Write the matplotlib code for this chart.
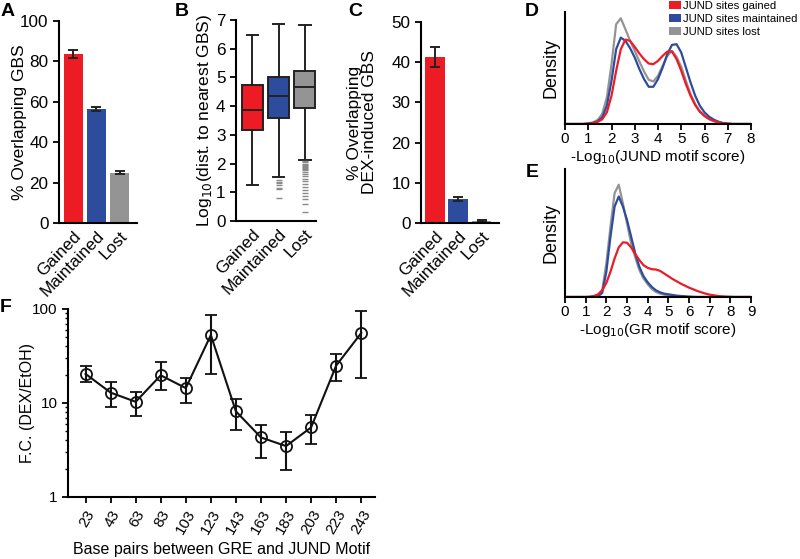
import numpy as np
import matplotlib
matplotlib.use("Agg")
import matplotlib.pyplot as plt
from matplotlib.patches import Patch

plt.rcParams['font.family'] = ['Liberation Sans', 'DejaVu Sans']
plt.rcParams['axes.linewidth'] = 1.5

RED = '#ED1C24'
BLUE = '#2E4C9E'
GREY = '#949494'

# ---------------- data ----------------
groups = ['Gained', 'Maintained', 'Lost']
bar_colors = [RED, BLUE, GREY]

# Panel A
overlap_gbs = [83.8, 56.3, 24.9]
overlap_gbs_err = [2.0, 1.0, 0.7]

# Panel B (box statistics of log10 distance)
b_whislo = [1.25, 1.52, 2.13]
b_q1 = [3.18, 3.58, 3.94]
b_med = [3.87, 4.34, 4.67]
b_q3 = [4.74, 5.02, 5.22]
b_whishi = [6.47, 6.87, 6.84]
b_fliers_gained = []
b_fliers_maint = [1.42, 1.37, 1.32, 1.27, 1.15, 1.10, 0.80]
b_fliers_lost = [2.08, 2.04, 2.0, 1.96, 1.92, 1.88, 1.84, 1.80, 1.76, 1.70, 1.62,
                 1.55, 1.45, 1.38, 1.28, 1.18, 1.08, 0.98, 0.88, 0.75, 0.60, 0.32]

# Panel C
overlap_dex = [41.3, 6.0, 0.5]
overlap_dex_err = [2.6, 0.5, 0.2]

# Panel D densities (relative units) vs -log10(JUND motif score)
d_x = [0.0, 0.8, 1.0, 1.2, 1.4, 1.6, 1.8, 2.0, 2.2, 2.4, 2.6, 2.8, 3.0, 3.2, 3.4, 3.6,
       3.8, 4.0, 4.2, 4.4, 4.6, 4.8, 5.0, 5.2, 5.4, 5.6, 5.8, 6.0, 6.2, 6.4, 6.6, 6.8,
       7.0, 7.2, 8.0]
d_gained = [0, 0, 1, 3, 6, 14, 35, 85, 160, 225, 254, 250, 232, 212, 195, 182,
            180, 190, 205, 218, 218, 195, 160, 120, 85, 57, 37, 24, 15, 9, 5, 2,
            1, 0, 0]
d_maint = [0, 0, 1, 3, 8, 20, 55, 130, 225, 260, 250, 228, 200, 165, 135, 112,
           112, 135, 170, 210, 238, 240, 215, 170, 125, 85, 55, 35, 22, 13, 7, 3,
           1, 0, 0]
d_lost = [0, 0, 2, 5, 12, 30, 80, 180, 300, 318, 285, 250, 220, 188, 158, 133,
          128, 145, 175, 205, 220, 202, 172, 130, 90, 60, 38, 25, 15, 9, 5, 2,
          1, 0, 0]

# Panel E densities vs -log10(GR motif score)
e_x = [0.0, 1.0, 1.2, 1.4, 1.6, 1.8, 2.0, 2.2, 2.4, 2.6, 2.8, 3.0, 3.2, 3.4, 3.6, 3.8,
       4.0, 4.2, 4.4, 4.6, 4.8, 5.0, 5.2, 5.4, 5.6, 5.8, 6.0, 6.2, 6.4, 6.6, 6.8, 7.0,
       7.2, 7.4, 7.6, 7.8, 8.0, 8.2, 9.0]
e_gained = [0, 0, 1, 3, 8, 20, 42, 75, 115, 148, 163, 162, 148, 128, 110, 95,
            87, 83, 82, 78, 70, 62, 54, 47, 40, 34, 28, 23, 18, 14, 10, 7,
            5, 3, 2, 1, 0.5, 0, 0]
e_maint = [0, 0, 0, 1, 2, 12, 75, 180, 270, 300, 270, 230, 180, 130, 90, 62,
           44, 30, 20, 14, 10, 8, 6, 4, 3, 2, 1, 0.5, 0, 0, 0, 0,
           0, 0, 0, 0, 0, 0, 0]
e_lost = [0, 0, 0, 1, 3, 20, 100, 210, 310, 335, 280, 220, 160, 118, 80, 55,
          38, 24, 15, 10, 7, 5, 4, 3, 2, 1, 0.5, 0, 0, 0, 0, 0,
          0, 0, 0, 0, 0, 0, 0]
density_labels = ['JUND sites gained', 'JUND sites maintained', 'JUND sites lost']

# Panel F
bp_spacing = ['23', '43', '63', '83', '103', '123', '143', '163', '183', '203', '223', '243']
fc_value = [20.4, 12.9, 10.3, 19.7, 14.4, 52.8, 8.15, 4.3, 3.48, 5.5, 25.0, 55.5]
fc_upper = [24.8, 16.8, 13.2, 27.0, 18.6, 86.0, 11.1, 5.9, 4.9, 7.4, 33.4, 95.0]
fc_lower = [16.8, 9.1, 7.3, 13.8, 9.9, 20.4, 5.15, 2.6, 1.93, 3.65, 17.2, 18.6]

# ---------------- figure ----------------
W, H = 800, 559
fig = plt.figure(figsize=(8.0, 5.59), dpi=100)


def ax_px(left, top, right, bottom):
    return fig.add_axes([left / W, 1 - bottom / H, (right - left) / W, (bottom - top) / H])


def style(ax):
    ax.spines['top'].set_visible(False)
    ax.spines['right'].set_visible(False)
    ax.tick_params(axis='both', direction='out', width=1.3, length=4, colors='black')


TICK_FS = 12.3
LAB_FS = 12.5

# Panel A
axA = ax_px(59, 21, 137, 223)
style(axA)
xa = np.arange(len(groups))
axA.bar(xa, overlap_gbs, width=0.84, color=bar_colors,
        yerr=overlap_gbs_err, capsize=3.5, error_kw=dict(elinewidth=1.4, capthick=1.4, ecolor='#222222'))
axA.set_ylim(0, 100)
axA.set_yticks([0, 20, 40, 60, 80, 100])
axA.set_xlim(-0.62, 2.75)
axA.set_xticks(xa)
axA.set_xticklabels(groups, rotation=46, ha='right', rotation_mode='anchor', fontsize=TICK_FS)
axA.tick_params(axis='x', length=0, pad=4)
axA.tick_params(axis='y', labelsize=TICK_FS)
axA.set_ylabel('% Overlapping GBS', fontsize=LAB_FS)
axA.yaxis.set_label_coords(-0.41, 0.5)

# Panel B
axB = ax_px(236, 20, 316, 221)
style(axB)
stats = []
fl = [b_fliers_gained, b_fliers_maint, b_fliers_lost]
for i in range(3):
    stats.append(dict(med=b_med[i], q1=b_q1[i], q3=b_q3[i], whislo=b_whislo[i],
                      whishi=b_whishi[i], fliers=fl[i]))
bp = axB.bxp(stats, positions=[0, 1, 2], widths=0.8, patch_artist=True, showfliers=True,
             boxprops=dict(linewidth=1.4, edgecolor='#222222'),
             medianprops=dict(color='#222222', linewidth=1.4),
             whiskerprops=dict(color='#222222', linewidth=1.4),
             capprops=dict(color='#222222', linewidth=1.4),
             flierprops=dict(marker='_', markersize=4, markeredgecolor='#8a8a8a',
                             markeredgewidth=1.0, linestyle='none'))
for patch, c in zip(bp['boxes'], bar_colors):
    patch.set_facecolor(c)
for cap in bp['caps']:
    xd = cap.get_xdata()
    m = np.mean(xd)
    cap.set_xdata([m - 0.22, m + 0.22])
axB.set_ylim(0, 7)
axB.set_yticks(range(8))
axB.set_xlim(-0.62, 2.42)
axB.set_xticks([0, 1, 2])
axB.set_xticklabels(groups, rotation=46, ha='right', rotation_mode='anchor', fontsize=TICK_FS)
axB.tick_params(axis='x', length=0, pad=4)
axB.tick_params(axis='y', labelsize=TICK_FS)
axB.set_ylabel('Log$_{10}$(dist. to nearest GBS)', fontsize=LAB_FS)
axB.yaxis.set_label_coords(-0.275, 0.5)

# Panel C
axC = ax_px(421, 22, 499, 223)
style(axC)
axC.bar(xa, overlap_dex, width=0.84, color=bar_colors,
        yerr=overlap_dex_err, capsize=3.5, error_kw=dict(elinewidth=1.4, capthick=1.4, ecolor='#222222'))
axC.set_ylim(0, 50)
axC.set_yticks([0, 10, 20, 30, 40, 50])
axC.set_xlim(-0.6, 2.75)
axC.set_xticks(xa)
axC.set_xticklabels(groups, rotation=46, ha='right', rotation_mode='anchor', fontsize=TICK_FS)
axC.tick_params(axis='x', length=0, pad=4)
axC.tick_params(axis='y', labelsize=TICK_FS)
axC.set_ylabel('% Overlapping\nDEX-induced GBS', fontsize=LAB_FS, linespacing=1.05)
axC.yaxis.set_label_coords(-0.56, 0.5)

# Panel D
axD = ax_px(565, 12, 751, 124)
style(axD)
axD.plot(d_x, d_lost, color=GREY, lw=1.6)
axD.plot(d_x, d_maint, color=BLUE, lw=1.6)
axD.plot(d_x, d_gained, color=RED, lw=1.6)
axD.set_xlim(0, 8)
axD.set_ylim(0, 337)
axD.set_yticks([])
axD.set_xticks(range(9))
axD.tick_params(axis='x', labelsize=11, pad=2)
axD.set_ylabel('Density', fontsize=13, labelpad=4)
axD.set_xlabel('-Log$_{10}$(JUND motif score)', fontsize=11, labelpad=1)
handles = [Patch(facecolor=c, edgecolor='none') for c in bar_colors]
fig.legend(handles, density_labels, loc='upper left', bbox_to_anchor=(669 / W, 1 - 0.5 / H),
           frameon=False, fontsize=8.1, handlelength=1.1, handleheight=0.8,
           handletextpad=0.12, labelspacing=0.25, borderpad=0, borderaxespad=0)

# Panel E
axE = ax_px(565, 169, 751, 297)
style(axE)
axE.plot(e_x, e_lost, color=GREY, lw=1.6)
axE.plot(e_x, e_maint, color=BLUE, lw=1.6)
axE.plot(e_x, e_gained, color=RED, lw=1.6)
axE.set_xlim(0, 9)
axE.set_ylim(0, 382)
axE.set_yticks([])
axE.set_xticks(range(10))
axE.tick_params(axis='x', labelsize=11, pad=2)
axE.set_ylabel('Density', fontsize=13, labelpad=4)
axE.set_xlabel('-Log$_{10}$(GR motif score)', fontsize=11, labelpad=1)

# Panel F
axF = ax_px(68, 309, 375, 497)
style(axF)
xf = np.arange(len(bp_spacing))
fc_value_a = np.array(fc_value)
yerr = [fc_value_a - np.array(fc_lower), np.array(fc_upper) - fc_value_a]
axF.errorbar(xf, fc_value, yerr=yerr, color='#111111', lw=1.5, capsize=4.5, capthick=1.5,
             elinewidth=1.5, marker='o', markersize=8, mfc='none', mec='#111111', mew=1.3)
axF.set_yscale('log')
axF.set_ylim(1, 100)
axF.set_yticks([1, 10, 100])
axF.set_yticklabels(['1', '10', '100'])
axF.tick_params(axis='y', which='minor', length=2.5, width=1.0)
axF.set_xlim(-0.7, 11.55)
axF.set_xticks(xf)
axF.set_xticklabels(bp_spacing, rotation=60, ha='right', rotation_mode='anchor')
axF.tick_params(axis='both', labelsize=11)
axF.set_ylabel('F.C. (DEX/EtOH)', fontsize=11.5)
axF.yaxis.set_label_coords(-0.109, 0.5)
axF.set_xlabel('Base pairs between GRE and JUND Motif', fontsize=11.5, labelpad=4)

# Panel letters
for lab, (px, py) in {'A': (8, 11), 'B': (182, 11), 'C': (355, 11), 'D': (532, 11),
                      'E': (532, 173), 'F': (6, 308)}.items():
    fig.text(px / W, 1 - py / H, lab, fontsize=14, fontweight='bold', ha='center', va='center')

fig.savefig('out.png', dpi=100)
